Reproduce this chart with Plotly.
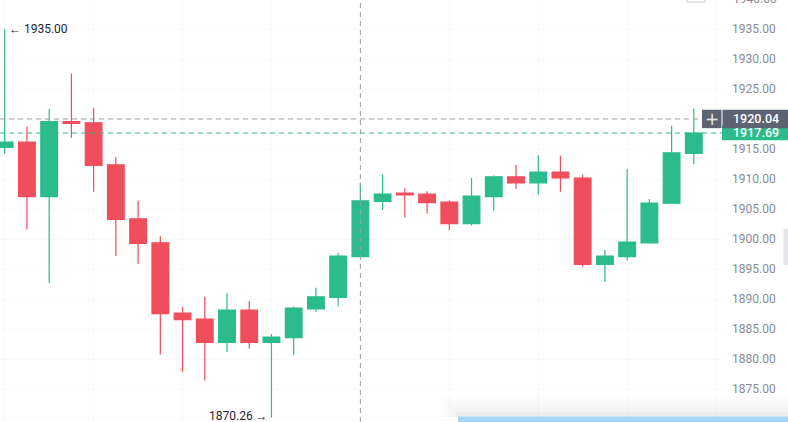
import plotly.graph_objects as go

# ---- data ----
idx = list(range(32))
opens = [1915.3, 1916.2, 1907.1, 1919.6, 1919.4, 1912.4, 1903.4, 1899.4, 1887.7, 1886.7,
         1882.8, 1888.2, 1882.8, 1883.6, 1888.4, 1890.3, 1897.1, 1906.3, 1907.7, 1907.5,
         1906.2, 1902.6, 1907.1, 1910.4, 1909.4, 1911.2, 1910.2, 1895.8, 1897.1, 1899.4,
         1906.0, 1914.3]
highs = [1935.0, 1918.8, 1921.7, 1927.6, 1921.9, 1913.7, 1906.4, 1900.5, 1888.7, 1890.4,
         1891.0, 1889.7, 1884.2, 1888.8, 1891.9, 1897.7, 1909.4, 1910.8, 1908.5, 1908.0,
         1906.5, 1910.2, 1910.6, 1912.4, 1914.0, 1913.9, 1910.8, 1898.2, 1911.7, 1906.7,
         1918.9, 1921.8]
lows = [1914.3, 1901.6, 1892.7, 1916.9, 1907.9, 1897.2, 1895.9, 1880.8, 1877.9, 1876.5,
        1881.2, 1881.8, 1870.26, 1880.7, 1887.9, 1888.8, 1897.0, 1904.9, 1903.6, 1904.3,
        1901.5, 1902.3, 1904.8, 1908.4, 1907.4, 1907.9, 1895.4, 1892.9, 1896.5, 1899.3,
        1906.0, 1912.5]
closes = [1916.2, 1907.1, 1919.6, 1919.3, 1912.3, 1903.3, 1899.3, 1887.6, 1886.6, 1882.8,
          1888.2, 1882.8, 1883.7, 1888.5, 1890.4, 1897.2, 1906.4, 1907.5, 1907.4, 1906.1,
          1902.6, 1907.2, 1910.4, 1909.4, 1911.2, 1910.2, 1895.8, 1897.2, 1899.5, 1906.0,
          1914.4, 1917.69]
# 1920.00 is hidden behind the crosshair price box in the reference
tick_vals = [1870, 1875, 1880, 1885, 1890, 1895, 1900, 1905, 1910, 1915, 1925, 1930, 1935]
tick_text = [f"{v:.2f}" for v in tick_vals]
max_price = 1935.00
min_price = 1870.26
crosshair_price = 1920.04
last_price = 1917.69
crosshair_idx = 16

GREEN = "#2bbb8c"
RED = "#ef4e5c"
GRAY = "#9a9ea8"
DARK = "#5c6373"
W, H = 788, 422
PLOT_W = 720

fig = go.Figure(go.Candlestick(
    x=idx, open=opens, high=highs, low=lows, close=closes,
    increasing=dict(line=dict(color=GREEN, width=1.2), fillcolor=GREEN),
    decreasing=dict(line=dict(color=RED, width=1.2), fillcolor=RED),
    whiskerwidth=0, hoverinfo="skip", showlegend=False,
))

step = 22.23
x0 = -4.7 / step
x1 = x0 + PLOT_W / step
ppu = 6.0
off = 29.2
y_top = max_price + off / ppu
y_bot = max_price - (H - off) / ppu

def px(xp):
    return xp / PLOT_W

def py(yp):
    return 1 - yp / H

shapes = []
# horizontal grid at 1920 (its label is hidden)
shapes.append(dict(type="line", xref="paper", yref="y", x0=0, x1=1, y0=1920, y1=1920,
                   line=dict(color="#f9f9fa", width=1), layer="below"))
# crosshair lines
shapes.append(dict(type="line", xref="x", yref="paper", x0=crosshair_idx, x1=crosshair_idx, y0=0, y1=1,
                   line=dict(color=GRAY, width=1, dash="5px,4px"), layer="above"))
shapes.append(dict(type="line", xref="paper", yref="y", x0=0, x1=px(702), y0=crosshair_price, y1=crosshair_price,
                   line=dict(color=GRAY, width=1, dash="5px,4px"), layer="above"))
shapes.append(dict(type="line", xref="paper", yref="y", x0=0, x1=px(722), y0=last_price, y1=last_price,
                   line=dict(color=GREEN, width=1, dash="5px,4px"), layer="above"))
# last price box (green)
shapes.append(dict(type="rect", xref="paper", yref="y", x0=px(722), x1=px(W + 2),
                   y0=last_price - 7.3 / ppu, y1=last_price + 7.3 / ppu,
                   fillcolor=GREEN, line=dict(width=0), layer="above"))
# crosshair price box (dark)
shapes.append(dict(type="rect", xref="paper", yref="y", x0=px(722.5), x1=px(W + 2),
                   y0=crosshair_price - 9.2 / ppu, y1=crosshair_price + 9.2 / ppu,
                   fillcolor=DARK, line=dict(width=0), layer="above"))
shapes.append(dict(type="rect", xref="paper", yref="y", x0=px(702), x1=px(721.5),
                   y0=crosshair_price - 9.2 / ppu, y1=crosshair_price + 9.2 / ppu,
                   fillcolor=DARK, line=dict(width=0), layer="above"))
# bottom widget soft shadow + blue bar
for i, a in enumerate([0.008, 0.010, 0.013, 0.016, 0.02]):
    shapes.append(dict(type="rect", xref="paper", yref="paper", x0=px(440 + i * 4), x1=px(W + 2),
                       y0=py(417), y1=py(396 + i * 4), fillcolor=f"rgba(0,0,0,{a})",
                       line=dict(width=0), layer="above"))
shapes.append(dict(type="rect", xref="paper", yref="paper", x0=px(458), x1=px(W + 2),
                   y0=py(H + 2), y1=py(416.5), fillcolor="#a6d6f7", line=dict(width=0), layer="above"))
# right side tab
shapes.append(dict(type="rect", xref="paper", yref="paper", x0=px(783.5), x1=px(W + 2),
                   y0=py(265), y1=py(229), fillcolor="#e4e4e6", line=dict(width=0), layer="above"))
# tiny top box
shapes.append(dict(type="rect", xref="paper", yref="paper", x0=px(687), x1=px(705),
                   y0=py(2), y1=py(-5), fillcolor="rgba(0,0,0,0)", line=dict(color="#c8c8cc", width=1), layer="above"))

annotations = [
    dict(x=0, y=max_price, xref="x", yref="y", text="← " + f"{max_price:.2f}", showarrow=False,
         xanchor="left", yanchor="middle", xshift=2, font=dict(size=12, color="#1e2433")),
    dict(x=12, y=min_price, xref="x", yref="y", text=f"{min_price:.2f}" + " →", showarrow=False,
         xanchor="right", yanchor="middle", xshift=-1, yshift=2, font=dict(size=12, color="#1e2433")),
    dict(x=px(731), y=crosshair_price, xref="paper", yref="y", text=f"{crosshair_price:.2f}", showarrow=False,
         xanchor="left", yanchor="middle",
         font=dict(size=12.5, color="white", family="Roboto", weight=500)),
    dict(x=px(731), y=last_price, xref="paper", yref="y", text=f"{last_price:.2f}", showarrow=False,
         xanchor="left", yanchor="middle", yshift=1,
         font=dict(size=12.5, color="white", family="Roboto", weight=500)),
    dict(x=px(711.8), y=crosshair_price, xref="paper", yref="y", text="+", showarrow=False,
         xanchor="center", yanchor="middle", font=dict(size=17, color="#e8eaee", family="DejaVu Sans")),
    dict(x=px(731), y=py(-1.5), xref="paper", yref="paper", text="1940.00", showarrow=False,
         xanchor="left", yanchor="middle", font=dict(size=12, color="#868a94")),
]

fig.update_layout(
    width=W, height=H,
    margin=dict(l=0, r=W - PLOT_W, t=0, b=0),
    paper_bgcolor="white", plot_bgcolor="white",
    font=dict(family="Roboto", size=12, color="#868a94"),
    boxgap=0.25, boxgroupgap=0,
    shapes=shapes, annotations=annotations,
    hovermode=False,
)
fig.update_xaxes(range=[x0, x1], showticklabels=False, showgrid=True, gridcolor="#f9f9fa",
                 tick0=0, dtick=4, zeroline=False, showline=False, rangeslider_visible=False, fixedrange=True)
fig.update_yaxes(range=[y_bot, y_top], side="right", tickvals=tick_vals, ticktext=tick_text,
                 showgrid=True, gridcolor="#f9f9fa", zeroline=False, showline=False, ticks="",
                 ticklabelstandoff=11, tickfont=dict(size=12, color="#868a94"), fixedrange=True)

fig.write_html("out.html")
